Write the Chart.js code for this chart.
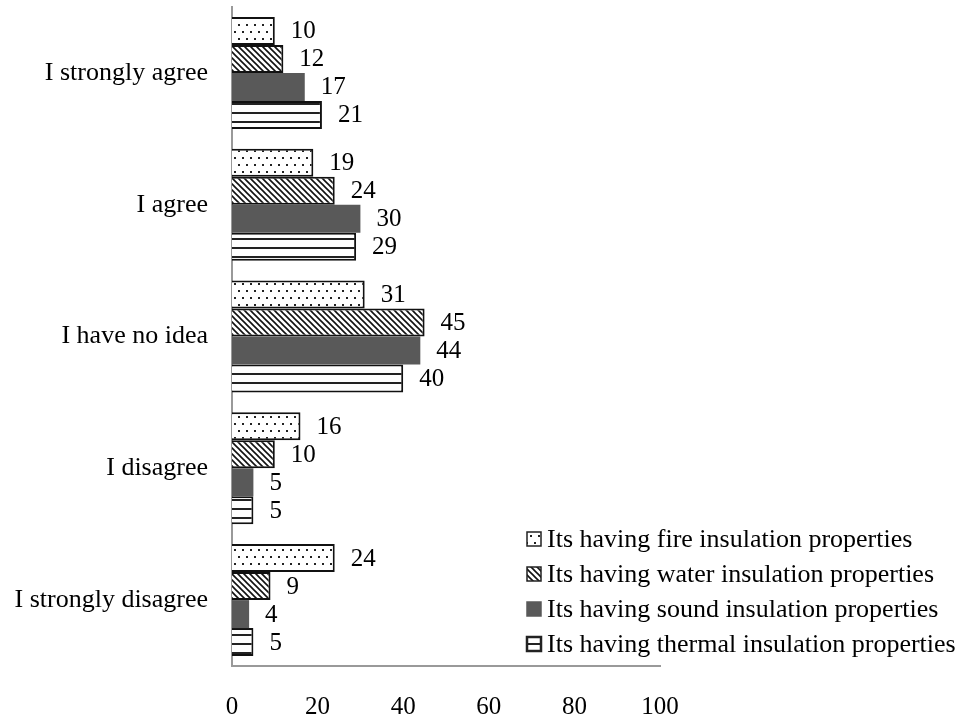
<!DOCTYPE html>
<html>
<head>
<meta charset="utf-8">
<script src="https://cdn.jsdelivr.net/npm/chart.js@4.4.1/dist/chart.umd.min.js"></script>
<style>
  body { margin: 0; background: #fff; }
</style>
</head>
<body>
<canvas id="myChart" width="974" height="720"></canvas>
<script>
// data -------------------------------------->
const categories = ['I strongly agree', 'I agree', 'I have no idea', 'I disagree', 'I strongly disagree'];
const fireValues = [10, 19, 31, 16, 24];
const waterValues = [12, 24, 45, 10, 9];
const soundValues = [17, 30, 44, 5, 4];
const thermalValues = [21, 29, 40, 5, 5];
const seriesLabels = [
  'Its having fire insulation properties',
  'Its having water insulation properties',
  'Its having sound insulation properties',
  'Its having thermal insulation properties'
];
const xMin = 0, xMax = 100, xStep = 20;

const serif = "'Liberation Serif', 'Times New Roman', serif";

// patterns -------------------------------------->
function makeTile(w, h, draw) {
  const c = document.createElement('canvas');
  c.width = w; c.height = h;
  const t = c.getContext('2d');
  t.fillStyle = '#fff';
  t.fillRect(0, 0, w, h);
  draw(t);
  return c;
}

const ctx = document.getElementById('myChart');
const c2d = ctx.getContext('2d');

const dots = c2d.createPattern(makeTile(8, 14, t => {
  t.fillStyle = '#222';
  t.fillRect(2, 3, 2, 2);
  t.fillRect(6, 10, 2, 2);
}), 'repeat');

const hatch = c2d.createPattern(makeTile(6, 6, t => {
  t.strokeStyle = '#111';
  t.lineWidth = 1.6;
  t.beginPath();
  t.moveTo(-1, -1); t.lineTo(7, 7);
  t.moveTo(-4, 2); t.lineTo(1, 7);
  t.moveTo(5, -1); t.lineTo(8, 2);
  t.stroke();
}), 'repeat');

const stripes = c2d.createPattern(makeTile(9, 9, t => {
  t.fillStyle = '#222';
  t.fillRect(0, 4, 9, 2);
}), 'repeat');

const fills = [dots, hatch, '#595959', stripes];

// plugins -------------------------------------->
const valueLabels = {
  id: 'valueLabels',
  afterDatasetsDraw(chart) {
    const g = chart.ctx;
    g.save();
    g.font = '25px ' + serif;
    g.fillStyle = '#000';
    g.textAlign = 'left';
    g.textBaseline = 'middle';
    chart.data.datasets.forEach((ds, i) => {
      chart.getDatasetMeta(i).data.forEach((bar, j) => {
        g.fillText(ds.data[j], bar.x + 16, bar.y + 1);
      });
    });
    g.restore();
  }
};

const sideLegend = {
  id: 'sideLegend',
  afterDraw(chart) {
    const g = chart.ctx;
    g.save();
    g.font = '26px ' + serif;
    g.textAlign = 'left';
    g.textBaseline = 'middle';
    chart.data.datasets.forEach((ds, i) => {
      const y = 539 + i * 35;
      g.fillStyle = ds.backgroundColor;
      g.fillRect(527, y - 7, 14, 14);
      g.lineWidth = i === 3 ? 2.5 : 1.5;
      g.strokeStyle = i === 2 ? '#595959' : '#222';
      g.strokeRect(527, y - 7, 14, 14);
      g.fillStyle = '#000';
      g.fillText(ds.label, 547, y + 1);
    });
    g.restore();
  }
};

// chart -------------------------------------->
const allValues = [fireValues, waterValues, soundValues, thermalValues];

new Chart(ctx, {
  type: 'bar',
  data: {
    labels: categories,
    datasets: allValues.map((vals, i) => ({
      label: seriesLabels[i],
      data: vals,
      backgroundColor: fills[i],
      borderColor: i === 2 ? '#595959' : '#111',
      borderWidth: i === 2 ? 0 : 2,
      barPercentage: 1,
      categoryPercentage: 0.85
    }))
  },
  plugins: [valueLabels, sideLegend],
  options: {
    indexAxis: 'y',
    responsive: false,
    animation: false,
    layout: { padding: { top: 7, right: 314, left: 0, bottom: 0 } },
    plugins: {
      legend: { display: false },
      tooltip: { enabled: false }
    },
    scales: {
      x: {
        min: xMin,
        max: xMax,
        ticks: {
          stepSize: xStep,
          color: '#000',
          padding: 26,
          font: { family: serif, size: 25 }
        },
        grid: { display: false, drawTicks: false },
        border: { display: true, color: '#999', width: 2 },
        afterFit(scale) { scale.height = 54; }
      },
      y: {
        ticks: {
          color: '#000',
          padding: 24,
          font: { family: serif, size: 26 }
        },
        grid: { display: false, drawTicks: false },
        border: { display: true, color: '#999', width: 2 },
        afterFit(scale) {
          scale.width = 232;
          scale.paddingTop = 0;
          scale.paddingBottom = 0;
        }
      }
    }
  }
});
</script>
</body>
</html>
